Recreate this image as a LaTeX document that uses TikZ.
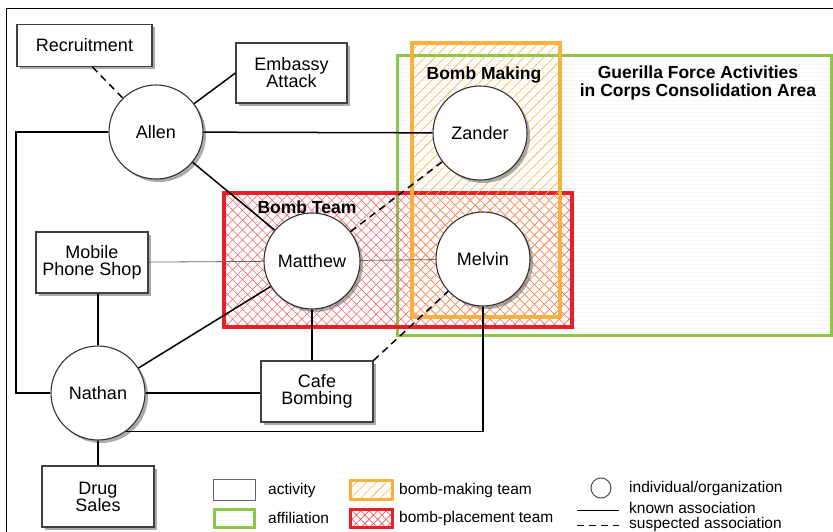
\documentclass[tikz,border=0pt]{standalone}
\usepackage{fontspec}
\setmainfont{Liberation Sans}
\usetikzlibrary{patterns.meta,shadows}

\definecolor{teamred}{RGB}{232,30,40}
\definecolor{makerorange}{RGB}{250,176,60}
\definecolor{areagreen}{RGB}{140,198,70}

\begin{document}
\begin{tikzpicture}[
      x=1pt,y=-1pt,
      person/.style={
         circle,
         draw=black!80,
         fill=white,
         line width=1.1pt,
         inner sep=0pt,
         minimum size=94pt,
         drop shadow={shadow xshift=3pt,shadow yshift=-3pt,fill=black!60,opacity=0.55},
         font=\fontsize{18}{17}\selectfont},
      activity/.style={
         rectangle,
         draw=black!75,
         fill=white,
         line width=1.2pt,
         inner sep=0pt,
         minimum width=112pt,
         minimum height=61pt,
         align=center,
         drop shadow={shadow xshift=3pt,shadow yshift=-3pt,fill=black!60,opacity=0.55},
         font=\fontsize{18}{17}\selectfont},
      known/.style={line width=1.5pt},
      suspected/.style={line width=1.5pt,dash pattern=on 7pt off 5pt},
      weak/.style={line width=0.8pt,draw=black!60},
      regionlabel/.style={font=\bfseries\fontsize{17.5}{18}\selectfont,align=center},
      key/.style={font=\fontsize{15.5}{16}\selectfont,anchor=west,inner sep=0pt}
      ]
      \useasboundingbox (0,0) rectangle (833,532);
      \clip (0,0) rectangle (833,532);
      \draw[line width=1pt] (6,9) rectangle (850,550);

      % affiliation, bomb team, bomb making
      \fill[pattern={Lines[angle=0,distance=4pt,line width=0.3pt]},pattern color=black!12]
         (397,56) rectangle (831,335);
      \draw[areagreen,line width=3pt] (397,56) rectangle (831,335);
      \fill[pattern={Lines[angle=45,distance=7pt,line width=0.55pt]},pattern color=teamred!70]
         (224,193) rectangle (572,327);
      \fill[pattern={Lines[angle=-45,distance=7pt,line width=0.55pt]},pattern color=teamred!70]
         (224,193) rectangle (572,327);
      \draw[teamred,line width=4pt] (224,193) rectangle (572,327);
      \fill[pattern={Lines[angle=45,distance=7pt,line width=0.6pt]},pattern color=makerorange]
         (412,43) rectangle (560,317);
      \draw[makerorange,line width=3.3pt] (412,43) rectangle (560,317);

      \node[regionlabel] (teamlbl) at (307,207) {Bomb Team};
      \node[regionlabel] (makerlbl) at (484,75) {Bomb Making};
      \node[regionlabel] (arealbl) at (698,83) {Guerilla Force Activities\\in Corps Consolidation Area};

      % individuals and activities
      \node[activity,minimum width=135pt,minimum height=42pt] (recruit) at (84.5,45.5) {Recruitment};
      \node[activity,minimum width=111pt,minimum height=60pt] (embassy) at (291.5,73) {Embassy\\Attack};
      \node[activity] (mobile) at (92,262.5) {Mobile\\Phone Shop};
      \node[activity] (cafe) at (317,391.5) {Cafe\\Bombing};
      \node[activity] (drug) at (98,496.5) {Drug\\Sales};
      \node[person] (allen) at (156,132) {Allen};
      \node[person] (zander) at (480,133) {Zander};
      \node[person,minimum size=96pt] (matthew) at (312,261) {Matthew};
      \node[person] (melvin) at (483,259) {Melvin};
      \node[person] (nathan) at (98,393) {Nathan};
      \coordinate (leftbus) at (16,0);

    \foreach \i/\j/\s in {% start node/end node/style
      allen/zander/known,
      allen/matthew/known,
      allen/embassy.west/known,
      nathan/matthew/known,
      matthew/zander/suspected,
      cafe.north east/melvin/suspected,
      mobile/matthew/weak,
      matthew/melvin/weak}
       \draw [\s] (\i) -- (\j);

\draw [suspected] ([xshift=8pt]recruit.south) -- (allen);
\draw [known] (allen.west) -- (allen.west -| leftbus) -- (nathan.west -| leftbus) -- (nathan.west);
\draw [known] (nathan) -- (nathan |- mobile.south);
\draw [known] (nathan) -- (nathan -| cafe.west);
\draw [known] (nathan) -- (nathan |- drug.north);
\draw [known] (matthew.south) -- (matthew.south |- cafe.north);
\draw [known] (nathan.-54) -- (nathan.-54 -| melvin.south) -- (melvin.south);

      % legend
      \node[draw=black!60,line width=1pt,minimum width=42pt,minimum height=21pt,inner sep=0pt] (keyact) at (234,489.5) {};
      \node[key] (keyacttxt) at (268,490) {activity};
      \node[draw=areagreen,line width=3pt,minimum width=40pt,minimum height=18pt,inner sep=0pt,
            pattern={Lines[angle=0,distance=4pt,line width=0.3pt]},pattern color=black!12] (keyaff) at (234,518) {};
      \node[key] (keyafftxt) at (268,518) {affiliation};
      \node[draw=makerorange,line width=3pt,minimum width=42pt,minimum height=19pt,inner sep=0pt,
            pattern={Lines[angle=45,distance=7pt,line width=0.6pt]},pattern color=makerorange] (keymake) at (371,489.5) {};
      \node[key] (keymaketxt) at (399,490) {bomb-making team};
      \fill[pattern={Lines[angle=45,distance=6pt,line width=0.6pt]},pattern color=teamred!75]
         (349,508) rectangle (393,528);
      \node[draw=teamred,line width=3pt,minimum width=42pt,minimum height=18pt,inner sep=0pt,
            pattern={Lines[angle=-45,distance=6pt,line width=0.6pt]},pattern color=teamred!75] (keyteam) at (371,518) {};
      \node[key] (keyteamtxt) at (399,518) {bomb-placement team};
      \node[circle,draw=black!70,line width=1pt,minimum size=20pt,inner sep=0pt] (keyperson) at (601,488) {};
      \node[key] (keypersontxt) at (629,488) {individual/organization};
      \coordinate (keyknowna) at (577,510);
      \coordinate (keyknownb) at (619,510);
      \draw[line width=0.8pt] (keyknowna) -- (keyknownb);
      \node[key] (keyknowntxt) at (629,508) {known association};
      \coordinate (keysuspa) at (577,525);
      \coordinate (keysuspb) at (619,525);
      \draw[line width=0.8pt,dash pattern=on 7pt off 5pt] (keysuspa) -- (keysuspb);
      \node[key] (keysusptxt) at (629,524) {suspected association};
    \end{tikzpicture}
\end{document}
